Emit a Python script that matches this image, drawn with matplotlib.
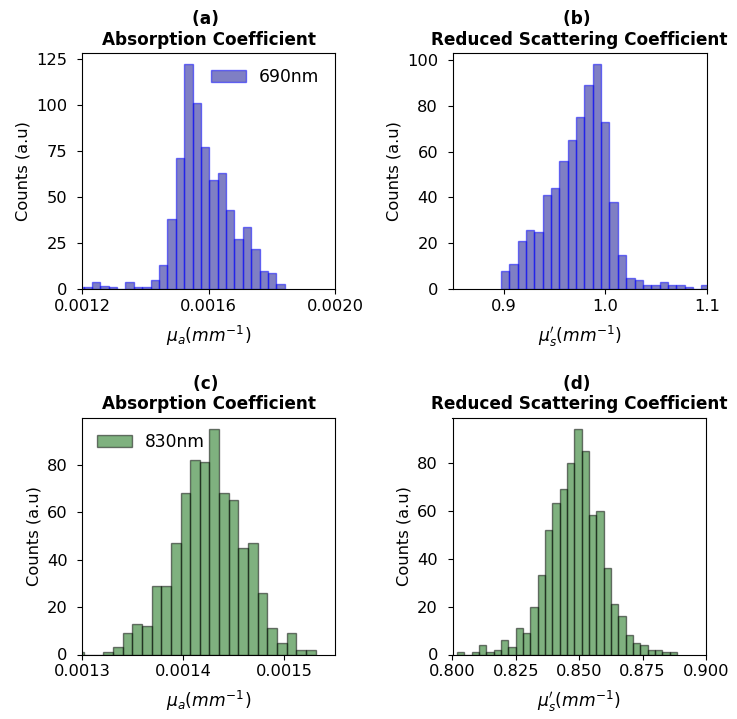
import numpy as np
import matplotlib
matplotlib.use("Agg")
import matplotlib.pyplot as plt

# histogram counts (bins of equal width)
ua_690_start, ua_690_width = 0.0011785, 2.65e-5
ua_690_counts = [1, 1, 4, 2, 1, 0, 4, 1, 1, 5, 13, 38, 71, 122, 101, 77, 59, 63,
                 43, 27, 34, 22, 10, 9, 3]

us_690_start, us_690_width = 0.89743, 0.00822
us_690_counts = [8, 11, 21, 26, 25, 41, 44, 56, 65, 75, 89, 98, 73, 38, 15, 5, 4,
                 2, 2, 3, 2, 2, 1, 0, 2]

ua_830_start, ua_830_width = 0.0012926, 9.526e-6
ua_830_counts = [1, 0, 0, 1, 3, 9, 13, 12, 29, 29, 47, 68, 82, 81, 95, 68, 65, 45,
                 47, 26, 11, 5, 9, 2, 2]

us_830_start, us_830_width = 0.80174, 0.002893
us_830_counts = [1, 0, 1, 4, 1, 2, 6, 3, 11, 9, 20, 33, 52, 63, 69, 80, 94, 85, 58,
                 60, 36, 21, 16, 8, 5, 4, 2, 2, 1, 1]

xticks_a = [0.0012, 0.0016, 0.0020]
xticks_b = [0.9, 1.0, 1.1]
xticks_c = [0.0013, 0.0014, 0.0015]
xticks_d = [0.800, 0.825, 0.850, 0.875, 0.900]


def edges(start, width, counts):
    return start + width * np.arange(len(counts) + 1)


def draw(ax, start, width, counts, color, edge, label=None):
    e = edges(start, width, counts)
    centers = (e[:-1] + e[1:]) / 2
    ax.hist(centers, bins=e, weights=counts, color=color, alpha=0.5,
            edgecolor=edge, linewidth=1.0, label=label)


fig = plt.figure(figsize=(7.37, 7.19), dpi=100)
W, H = 737, 719

def add_axes(left, right, top, bottom):
    return fig.add_axes([left / W, 1 - bottom / H, (right - left) / W, (bottom - top) / H])

ax_a = add_axes(82, 335, 53, 289.3)
ax_b = add_axes(452.7, 706.7, 53, 289.3)
ax_c = add_axes(82, 335, 417.7, 654.5)
ax_d = add_axes(452.5, 706, 417.7, 654.5)

draw(ax_a, ua_690_start, ua_690_width, ua_690_counts, "darkblue", "blue", "690nm")
draw(ax_b, us_690_start, us_690_width, us_690_counts, "darkblue", "blue")
draw(ax_c, ua_830_start, ua_830_width, ua_830_counts, "darkgreen", "black", "830nm")
draw(ax_d, us_830_start, us_830_width, us_830_counts, "darkgreen", "black")

tick_fs = 11.7
title_fs = 12.2

ax_a.set_xlim(0.0012, 0.0020)
ax_a.set_xticks(xticks_a)
ax_a.set_xticklabels(["0.0012", "0.0016", "0.0020"])
ax_a.set_yticks([0, 25, 50, 75, 100, 125])

ax_b.set_xlim(0.85, 1.1)
ax_b.set_xticks(xticks_b)
ax_b.set_xticklabels(["0.9", "1.0", "1.1"])
ax_b.set_yticks([0, 20, 40, 60, 80, 100])

ax_c.set_xlim(0.0013, 0.00155)
ax_c.set_xticks(xticks_c)
ax_c.set_xticklabels(["0.0013", "0.0014", "0.0015"])
ax_c.set_yticks([0, 20, 40, 60, 80])

ax_d.set_xlim(0.8, 0.9)
ax_d.set_xticks(xticks_d)
ax_d.set_xticklabels(["0.800", "0.825", "0.850", "0.875", "0.900"])
ax_d.set_yticks([0, 20, 40, 60, 80])

titles = ["(a) \nAbsorption Coefficient", "(b) \nReduced Scattering Coefficient",
          "(c) \nAbsorption Coefficient", "(d) \nReduced Scattering Coefficient"]
xlabels = [r"$\mu_a (mm^{-1})$", r"$\mu_s' (mm^{-1})$",
           r"$\mu_a (mm^{-1})$", r"$\mu_s' (mm^{-1})$"]

for ax, t, xl in zip([ax_a, ax_b, ax_c, ax_d], titles, xlabels):
    ax.set_title(t, fontsize=title_fs, fontweight="bold")
    ax.set_xlabel(xl, fontsize=12.3, labelpad=7)
    ax.set_ylabel("Counts (a.u)", fontsize=tick_fs)
    ax.tick_params(labelsize=tick_fs)
    ax.tick_params(axis="y", pad=7)

ax_a.legend(loc="upper right", frameon=False, fontsize=12.3)
ax_c.legend(loc="upper left", frameon=False, fontsize=12.3)

fig.savefig("out.png", dpi=100)
